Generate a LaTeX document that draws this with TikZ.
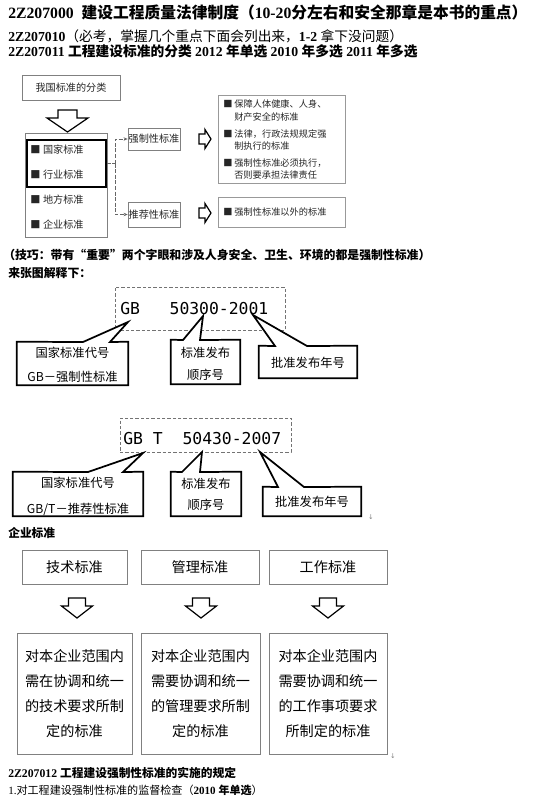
\documentclass[tikz,border=0pt]{standalone}
\usepackage{fontspec}
\setmainfont{Liberation Serif}
\newfontfamily\cjk{Noto Sans CJK SC}
\newfontfamily\codefont{DejaVu Sans Mono}
\newfontfamily\symfont{DejaVu Sans}
\usetikzlibrary{fit,arrows.meta}
\begin{document}
\begin{tikzpicture}[x=0.75pt,y=-0.75pt,
  every node/.style={inner sep=0pt},
  gbox/.style={draw=black!50, line width=0.6pt},
  lbox/.style={draw=black!40, line width=0.5pt},
  thickbox/.style={draw=black, line width=1.1pt},
  cbox/.style={draw=black, line width=1.3pt, fill=white, line join=miter},
  dashbox/.style={draw=black!55, line width=0.6pt, dash pattern=on 2.5pt off 1.5pt},
  hollow/.style={draw=black, line width=0.9pt, fill=white, line join=miter},
  conn/.style={draw=black!60, line width=0.5pt, dash pattern=on 3pt off 1.2pt},
  head/.style={anchor=west, font=\fontsize{10.3}{12}\selectfont\bfseries},
  small/.style={font=\cjk\fontsize{7.6}{9}\selectfont, text=black!85},
  tiny/.style={anchor=west, font=\cjk\fontsize{6.9}{8}\selectfont, text=black!85},
  code/.style={anchor=west, font=\codefont\fontsize{12.3}{14}\selectfont},
  ctext/.style={font=\cjk\fontsize{9.2}{11}\selectfont},
  mid/.style={font=\cjk\fontsize{10.6}{12}\selectfont},
  big/.style={font=\cjk\fontsize{10.6}{18.75}\selectfont, align=center},
  retmark/.style={font=\symfont\fontsize{5}{6}\selectfont, text=black!50},
]
\useasboundingbox[fill=white] (0,0) rectangle (548,797);

% headings
\node[anchor=west, font=\fontsize{11.8}{13}\selectfont\bfseries] (title) at (8,12)
  {2Z207000\ \ {\cjk 建设工程质量法律制度（}10-20{\cjk 分左右和安全那章是本书的重点）}};
\node[head] (sec) at (8,36)
  {2Z207010{\cjk\mdseries （必考，掌握几个重点下面会列出来，}1-2 {\cjk\mdseries 拿下没问题）}};
\node[head] (sub) at (8,51)
  {2Z207011 {\cjk 工程建设标准的分类} 2012 {\cjk 年单选} 2010 {\cjk 年多选} 2011 {\cjk 年多选}};

% classification diagram
\node[gbox, fit={(22,75)(120,100)}] (cls) {};
\node[small] (clst) at (cls.center) {我国标准的分类};
\draw[hollow] (58,110) -- (77,110) -- (77,118) -- (88,118) -- (67.5,132) -- (47,118) -- (58,118) -- cycle;
\node[gbox, fit={(25,133)(107,237)}] (lst) {};
\node[thickbox, fit={(27,140)(106,187)}] (nat) {};
\node[small, anchor=west] (i1) at (30,150) {■\hspace{2pt}国家标准};
\node[small, anchor=west] (i2) at (30,175) {■\hspace{2pt}行业标准};
\node[small, anchor=west] (i3) at (30,200) {■\hspace{2pt}地方标准};
\node[small, anchor=west] (i4) at (30,225) {■\hspace{2pt}企业标准};

\node[gbox, fit={(128,128)(180,150)}] (qz) {};
\node[small] (qzt) at (qz.center) {强制性标准};
\node[gbox, fit={(128,202)(180,227)}] (tj) {};
\node[small] (tjt) at (tj.center) {推荐性标准};
\coordinate (jn) at (115,163.5);
\draw[conn] (nat.east) -- (jn);
\draw[conn, -{Stealth[length=3pt,width=2.6pt]}] (jn) |- (qz.west);
\draw[conn, -{Stealth[length=3pt,width=2.6pt]}] (jn) |- (tj.west);

\draw[hollow] (199,134) -- (205,134) -- (205,129.5) -- (211,139) -- (205,148.5) -- (205,144) -- (199,144) -- cycle;
\draw[hollow, shift={(0,74)}] (199,134) -- (205,134) -- (205,129.5) -- (211,139) -- (205,148.5) -- (205,144) -- (199,144) -- cycle;

\node[lbox, fit={(218,95)(345,183)}] (d1) {};
\node[tiny] (d1a) at (223,104) {■\hspace{1.5pt}保障人体健康、人身、};
\node[tiny] (d1b) at (234,117) {财产安全的标准};
\node[tiny] (d1c) at (223,134) {■\hspace{1.5pt}法律，行政法规规定强};
\node[tiny] (d1d) at (234,146) {制执行的标准};
\node[tiny] (d1e) at (223,163) {■\hspace{1.5pt}强制性标准必须执行，};
\node[tiny] (d1f) at (234,175) {否则要承担法律责任};
\node[lbox, fit={(218,197)(345,227)}] (d2) {};
\node[tiny] (d2a) at (223,212) {■\hspace{1.5pt}强制性标准以外的标准};

% tip text
\node[anchor=west, font=\cjk\bfseries\fontsize{8.9}{10}\selectfont] (tip) at (3,255)
  {（技巧：带有“重要”两个字眼和涉及人身安全、卫生、环境的都是强制性标准）};
\node[anchor=west, font=\cjk\bfseries\fontsize{8.9}{10}\selectfont] (expl) at (8,273) {来张图解释下：};

% GB 50300-2001
\node[dashbox, fit={(115,287)(285,330)}] (gb1) {};
\node[code] (gb1t) at (120,309) {GB\ \ \ 50300-2001};
\coordinate (p11) at (128,322);
\coordinate (p12) at (203,316);
\coordinate (p13) at (253,315);
\node[fit={(17,342)(128,385)}] (c11) {};
\draw[cbox] (c11.north west) -- (83,342) -- (p11) -- (110,342) -- (c11.north east) -- (c11.south east) -- (c11.south west) -- cycle;
\node[ctext] (c11a) at (72.5,353) {国家标准代号};
\node[ctext] (c11b) at (72.5,377) {GB{\cjk －强制性标准}};
\node[fit={(171,340)(240,384)}] (c12) {};
\draw[cbox] (c12.north west) -- (183,340) -- (p12) -- (200,340) -- (c12.north east) -- (c12.south east) -- (c12.south west) -- cycle;
\node[ctext] (c12a) at (205.5,353) {标准发布};
\node[ctext] (c12b) at (205.5,375) {顺序号};
\node[fit={(259,346)(357,378)}] (c13) {};
\draw[cbox] (c13.north west) -- (275,346) -- (p13) -- (307,346) -- (c13.north east) -- (c13.south east) -- (c13.south west) -- cycle;
\node[ctext] (c13a) at (308,363) {批准发布年号};

% GB/T 50430-2007
\node[dashbox, fit={(120,418)(291,452)}] (gb2) {};
\node[code] (gb2t) at (123,439) {GB T\ \ 50430-2007};
\coordinate (p21) at (143,453);
\coordinate (p22) at (202,452);
\coordinate (p23) at (260,452);
\node[fit={(13,472)(143,516)}] (c21) {};
\draw[cbox] (c21.north west) -- (88,472) -- (p21) -- (123,472) -- (c21.north east) -- (c21.south east) -- (c21.south west) -- cycle;
\node[ctext] (c21a) at (78,483) {国家标准代号};
\node[ctext] (c21b) at (78,509) {GB/T{\cjk －推荐性标准}};
\node[fit={(171,472)(241,516)}] (c22) {};
\draw[cbox] (c22.north west) -- (182,472) -- (p22) -- (200,472) -- (c22.north east) -- (c22.south east) -- (c22.south west) -- cycle;
\node[ctext] (c22a) at (206,484) {标准发布};
\node[ctext] (c22b) at (206,505) {顺序号};
\node[fit={(263,487)(361,516)}] (c23) {};
\draw[cbox] (c23.north west) -- (278,487) -- (p23) -- (304,487) -- (c23.north east) -- (c23.south east) -- (c23.south west) -- cycle;
\node[ctext] (c23a) at (312,502) {批准发布年号};
\node[retmark] (m1) at (371,517) {↓};

% enterprise standards
\node[anchor=west, font=\cjk\bfseries\fontsize{8.8}{10}\selectfont] (qy) at (8,533) {企业标准};
\node[gbox, fit={(22,550)(127,584)}] (b1) {};
\node[mid] (b1t) at (b1.center) {技术标准};
\node[gbox, fit={(141,550)(259,584)}] (b2) {};
\node[mid] (b2t) at (b2.center) {管理标准};
\node[gbox, fit={(269,550)(387,584)}] (b3) {};
\node[mid] (b3t) at (b3.center) {工作标准};
\foreach \cx in {77,201,328}{
  \draw[hollow] (\cx-8.5,598) -- (\cx+8.5,598) -- (\cx+8.5,606) -- (\cx+15.5,606) -- (\cx,618) -- (\cx-15.5,606) -- (\cx-8.5,606) -- cycle;
}
\node[gbox, fit={(17,633)(132,754)}] (e1) {};
\node[big] (e1t) at (e1.center) {对本企业范围内\\需在协调和统一\\的技术要求所制\\定的标准};
\node[gbox, fit={(141,633)(260,754)}] (e2) {};
\node[big] (e2t) at (e2.center) {对本企业范围内\\需要协调和统一\\的管理要求所制\\定的标准};
\node[gbox, fit={(269,633)(387,754)}] (e3) {};
\node[big] (e3t) at (e3.center) {对本企业范围内\\需要协调和统一\\的工作事项要求\\所制定的标准};
\node[retmark] (m2) at (393,756) {↓};

% bottom
\node[anchor=west, font=\fontsize{8.8}{10}\selectfont\bfseries] (s12) at (8,773)
  {2Z207012 {\cjk 工程建设强制性标准的实施的规定}};
\node[anchor=west, font=\fontsize{8.3}{10}\selectfont] (s12a) at (8,790)
  {1.{\cjk 对工程建设强制性标准的监督检查（}\textbf{2010} {\cjk\bfseries 年单选}{\cjk ）}};
\end{tikzpicture}
\end{document}
